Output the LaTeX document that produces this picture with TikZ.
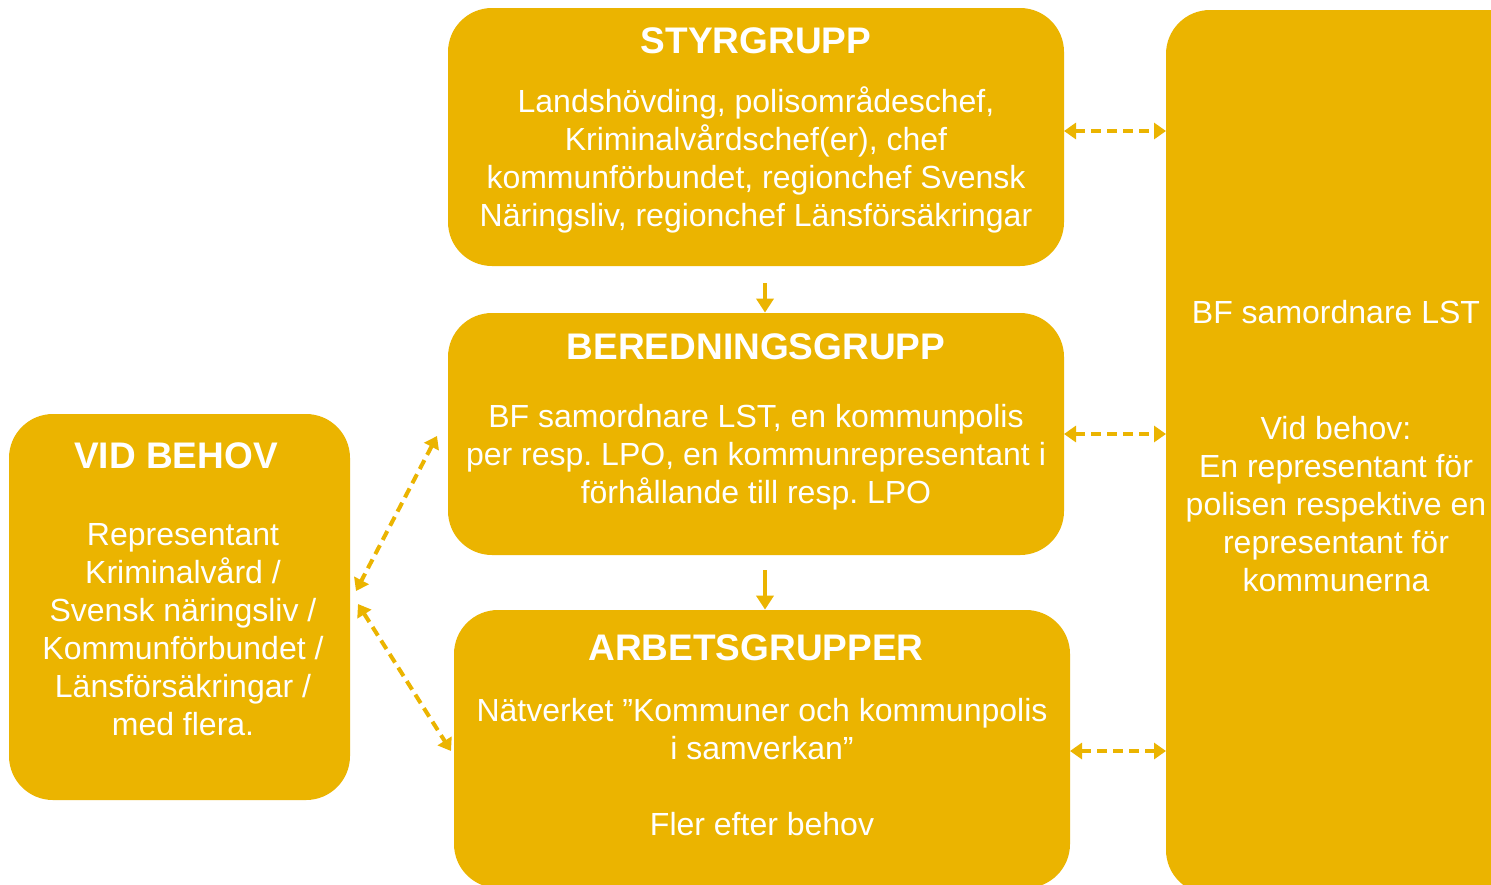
\documentclass[tikz,border=0pt]{standalone}
\usepackage{fontspec}
\setmainfont{Liberation Sans}
\usepackage{tikz}
\usetikzlibrary{arrows.meta, positioning, calc}
\definecolor{gulbox}{RGB}{235,180,0}
\frenchspacing

\begin{document}
\begin{tikzpicture}[x=0.5pt, y=-0.5pt]
	\tikzstyle{grupp}=[draw=none, fill=gulbox, rounded corners=22pt, inner sep=0pt]
	\tikzstyle{rubrik}=[text=white, font=\fontsize{18.5}{22}\selectfont\bfseries]
	\tikzstyle{brodtext}=[text=white, align=center, font=\fontsize{16}{19}\selectfont]
	\tikzstyle{nedpil}=[draw=gulbox, line width=2pt, -{Triangle[length=7pt, width=8.5pt]}]
	\tikzstyle{dubbelpil}=[draw=gulbox, line width=2pt, dash pattern=on 5pt off 3pt, {Triangle[length=6pt, width=8pt]}-{Triangle[length=6pt, width=8pt]}]
	\useasboundingbox (0,0) rectangle (1491,884);
	\fill[white] (0,0) rectangle (1491,884);
	\node (styr) at (756,137) [grupp, minimum width=308pt, minimum height=129pt]{};
	\node (bered) at (756,434) [grupp, minimum width=308pt, minimum height=121pt]{};
	\node (arbet) at (762,749) [grupp, minimum width=308pt, minimum height=139pt]{};
	\node (behov) at (179.5,607) [grupp, minimum width=170.5pt, minimum height=193pt]{};
	\node (lst) at (1351,452) [grupp, minimum width=185pt, minimum height=442pt]{};
	\node (styrrub) at (756,41) [rubrik]{STYRGRUPP};
	\node (styrtxt) at (756,160) [brodtext]{Landshövding, polisområdeschef,\\Kriminalvårdschef(er), chef\\kommunförbundet, regionchef Svensk\\Näringsliv, regionchef Länsförsäkringar};
	\node (beredrub) at (756,347) [rubrik]{BEREDNINGSGRUPP};
	\node (beredtxt) at (756,457) [brodtext]{BF samordnare LST, en kommunpolis\\per resp. LPO, en kommunrepresentant i\\förhållande till resp. LPO};
	\node (arbetrub) at (756,648) [rubrik]{ARBETSGRUPPER};
	\node (arbettxt) at (762,767) [brodtext]{Nätverket ”Kommuner och kommunpolis\\i samverkan”\\[19pt]Fler efter behov};
	\node (behovrub) at (176,456) [rubrik]{VID BEHOV};
	\node (behovtxt) at (183,629.5) [brodtext]{Representant\\Kriminalvård /\\Svensk näringsliv /\\Kommunförbundet /\\Länsförsäkringar /\\med flera.};
	\node (lsttxt1) at (1336,312) [brodtext]{BF samordnare LST};
	\node (lsttxt2) at (1336,504) [brodtext]{Vid behov:\\En representant för\\polisen respektive en\\representant för\\kommunerna};
	\coordinate (p1) at (765,283);
	\coordinate (p2) at (765,570);
	\draw[nedpil] (p1) -- (bered.north -| p1);
	\draw[nedpil] (p2) -- (arbet.north -| p2);
	\draw[dubbelpil] (1064,131) -- (1166,131);
	\draw[dubbelpil] (1064,434) -- (1166,434);
	\draw[dubbelpil] (1070,751) -- (1166,751);
	\draw[dubbelpil] (437,436) -- (356,591);
	\draw[dubbelpil] (358,604) -- (451,751);
\end{tikzpicture}
\end{document}
